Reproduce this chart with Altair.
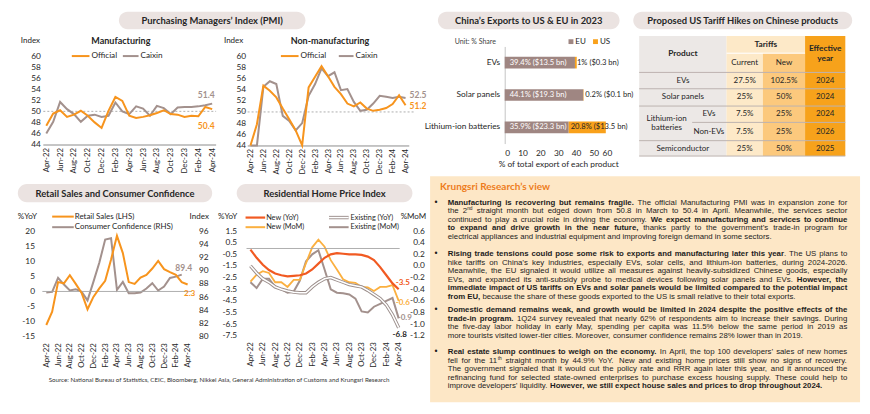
import altair as alt
import pandas as pd

W, H = 854, 398
SX, SY = W / 870, H / 414


def X(v):
    return round(v * SX, 2)


def Y(v):
    return round(v * SY, 2)


FONT = "Lato"
BODY_FONT = "Liberation Sans"
DARK = "#262626"
BODY = "#1c1c1c"
ORANGE = "#f7941d"
GRAY = "#a3918d"
PILL = "#ebe3e1"
BOX = "#fde7c6"
TITLE_ORANGE = "#ee7d1c"
EU_BROWN = "#9f8682"
US_ORANGE = "#f9a11b"
NEW_YOY_C = "#f15a22"
NEW_MOM_C = "#fbb040"
EX_YOY_C = "#9c8f8c"
EX_MOM_C = "#a3918d"
GRID = "#a6a6a6"

# ---------------- data ----------------
months = ["Apr-22", "May-22", "Jun-22", "Jul-22", "Aug-22", "Sep-22", "Oct-22", "Nov-22", "Dec-22",
          "Jan-23", "Feb-23", "Mar-23", "Apr-23", "May-23", "Jun-23", "Jul-23", "Aug-23", "Sep-23",
          "Oct-23", "Nov-23", "Dec-23", "Jan-24", "Feb-24", "Mar-24", "Apr-24"]
tick_months = months[::2]

mfg_official = [47.4, 49.6, 50.2, 49.0, 49.4, 50.1, 49.2, 48.0, 47.0, 50.1, 52.6, 51.9, 49.2, 48.8,
                49.0, 49.3, 49.7, 50.2, 49.5, 49.4, 49.0, 49.2, 49.1, 50.8, 50.4]
mfg_caixin = [46.0, 48.1, 51.7, 50.4, 49.5, 48.1, 49.2, 49.4, 49.0, 49.2, 51.6, 50.0, 49.5, 50.9,
              50.5, 49.2, 51.0, 50.6, 49.5, 50.7, 50.8, 50.8, 50.9, 51.1, 51.4]
nonmfg_official = [41.9, 47.8, 54.7, 53.8, 52.6, 50.6, 48.7, 46.7, 41.6, 54.4, 56.3, 58.2, 56.4, 54.5,
                   53.2, 51.5, 51.0, 51.7, 50.6, 50.2, 50.4, 50.7, 51.4, 53.0, 51.2]
nonmfg_caixin = [36.2, 41.4, 54.5, 55.5, 55.0, 49.3, 48.4, 46.7, 48.0, 52.9, 55.0, 57.8, 56.4, 57.1,
                 53.9, 54.1, 51.8, 50.2, 50.4, 51.5, 52.9, 52.7, 52.5, 52.7, 52.5]
retail_sales = [-11.1, -6.7, 3.1, 2.7, 5.4, 2.5, -0.5, -5.9, -1.8, 1.0, 3.5, 10.6, 18.4, 12.7, 3.1,
                2.5, 4.6, 5.5, 7.6, 10.1, 7.4, 6.4, 5.5, 3.1, 2.3]
consumer_conf = [86.7, 86.8, 88.9, 87.9, 87.0, 87.2, 86.8, 85.5, 88.3, 91.2, 94.7, 94.9, 87.1, 88.3,
                 86.6, 86.6, 86.7, 87.3, 88.1, 87.0, 87.6, 88.9, 89.1, 89.4, None]
new_yoy = [-0.1, -0.8, -1.4, -1.85, -2.15, -2.3, -2.4, -2.35, -2.3, -2.15, -1.8, -1.3, -0.8, -0.5,
           -0.4, -0.45, -0.5, -0.5, -0.55, -0.7, -1.0, -1.6, -2.3, -3.0, -3.5]
new_mom = [-0.27, -0.15, -0.09, -0.12, -0.28, -0.28, -0.36, -0.24, -0.24, 0.05, 0.32, 0.45, 0.33,
           0.10, -0.06, -0.23, -0.28, -0.29, -0.36, -0.37, -0.43, -0.36, -0.36, -0.33, -0.6]
existing_yoy = [-1.5, -2.1, -2.6, -2.9, -3.3, -3.5, -3.65, -3.75, -3.8, -3.8, -3.3, -2.9, -2.6, -2.5,
                -2.7, -2.9, -3.1, -3.2, -3.3, -3.6, -3.95, -4.3, -4.85, -5.7, -6.8]
existing_mom = [-0.28, -0.38, -0.22, -0.22, -0.36, -0.40, -0.46, -0.44, -0.25, 0.08, 0.2, 0.27, -0.06,
                -0.4, -0.46, -0.47, -0.49, -0.56, -0.78, -0.8, -0.7, -0.65, -0.6, -0.55, -0.9]

products = ["EVs", "Solar panels", "Lithium-ion batteries"]
eu_share = [39.4, 44.1, 35.9]
us_share = [1.0, 0.2, 20.8]
eu_labels = ["39.4% ($13.5 bn)", "44.1% ($19.3 bn)", "35.9% ($23.3 bn)"]
us_labels = ["1% ($0.3 bn)", "0.2% ($0.1 bn)", "20.8% ($13.5 bn)"]

table_product = ["EVs", "Solar panels", "Lithium-ion batteries", "Lithium-ion batteries", "Semiconductor"]
table_sub = ["", "", "EVs", "Non-EVs", ""]
table_current = ["27.5%", "25%", "7.5%", "7.5%", "25%"]
table_new = ["102.5%", "50%", "25%", "25%", "50%"]
table_year = ["2024", "2024", "2024", "2026", "2025"]

source_text = ("Source: National Bureau of Statistics, CEIC, Bloomberg, Nikkei Asia, "
               "General Administration of Customs and Krungsri Research")

paragraphs = [
    ["**Manufacturing is recovering but remains fragile.** The official Manufacturing PMI was in expansion zone for",
     "the 2^{nd} straight month but edged down from 50.8 in March to 50.4 in April. Meanwhile, the services sector",
     "continued to play a crucial role in driving the economy. **We expect manufacturing and services to continue**",
     "**to expand and drive growth in the near future,** thanks partly to the government’s trade-in program for",
     "electrical appliances and industrial equipment and improving foreign demand in some sectors."],
    ["**Rising trade tensions could pose some risk to exports and manufacturing later this year**. The US plans to",
     "hike tariffs on China’s key industries, especially EVs, solar cells, and lithium-ion batteries, during 2024-2026.",
     "Meanwhile, the EU signaled it would utilize all measures against heavily-subsidized Chinese goods, especially",
     "EVs, and expanded its anti-subsidy probe to medical devices following solar panels and EVs. **However, the**",
     "**immediate impact of US tariffs on EVs and solar panels would be limited compared to the potential impact**",
     "**from EU,** because the share of these goods exported to the US is small relative to their total exports."],
    ["**Domestic demand remains weak, and growth would be limited in 2024 despite the positive effects of the**",
     "**trade-in program.** 1Q24 survey revealed that nearly 62% of respondents aim to increase their savings. During",
     "the five-day labor holiday in early May, spending per capita was 11.5% below the same period in 2019 as",
     "more tourists visited lower-tier cities. Moreover, consumer confidence remains 28% lower than in 2019."],
    ["**Real estate slump continues to weigh on the economy.** In April, the top 100 developers’ sales of new homes",
     "fell for the 11^{th} straight month by 44.9% YoY. New and existing home prices still show no signs of recovery.",
     "The government signaled that it would cut the policy rate and RRR again later this year, and it announced the",
     "refinancing fund for selected state-owned enterprises to purchase excess housing supply. These could help to",
     "improve developers’ liquidity.  **However, we still expect house sales and prices to drop throughout 2024.**"],
]

# ---------------- helpers ----------------
texts, rects, rules = [], [], []


def T(x, y, s, size, color=DARK, weight="normal", align="center", font=FONT):
    texts.append(dict(x=X(x), y=Y(y), text=s, size=size, color=color, weight=weight,
                      align=align, font=font, baseline="middle"))


def R(x0, x1, y0, y1, fill, r=0):
    rects.append(dict(x=X(x0), x2=X(x1), y=Y(y0), y2=Y(y1), fill=fill, r=r))


def L(x0, x1, y0, y1, color, w=1.0):
    rules.append(dict(x=X(x0), x2=X(x1), y=Y(y0), y2=Y(y1), color=color, w=w))


INT = "replace(format(datum.value, 'd'), '\u2212', '-')"
ONE = "replace(format(datum.value, '.1f'), '\u2212', '-')"


def xenc(x0, x1, axis_y, domain_line):
    step = (x1 - x0) / (len(months) - 1)
    return alt.X("month:O", sort=months,
                 scale=alt.Scale(range=[X(x0 - step / 2), X(x1 + step / 2)], padding=0.5),
                 axis=alt.Axis(orient="bottom", offset=Y(axis_y) - H, values=tick_months,
                               labelAngle=270, title=None, grid=False, domain=domain_line,
                               domainColor="#8c8c8c", ticks=False, labelFont=FONT,
                               labelFontSize=7.8, labelColor=DARK, labelPadding=3))


def yenc(dom, y0, y1, axis_x, orient, values, expr, label_align=None):
    off = -X(axis_x) if orient == "left" else X(axis_x) - W
    kw = dict(orient=orient, offset=off, values=values, labelExpr=expr, title=None,
              grid=False, domain=False, ticks=False, labelFont=FONT,
              labelFontSize=8.3, labelColor=DARK, labelPadding=2)
    if label_align:
        kw["labelAlign"] = label_align
    return alt.Y("value:Q",
                 scale=alt.Scale(domain=dom, range=[Y(y0), Y(y1)], nice=False, zero=False, clamp=True),
                 axis=alt.Axis(**kw))


def sdf(vals):
    return pd.DataFrame({"month": months, "value": vals}).dropna()


def line(vals, xe, ye, color, width=2.0):
    return alt.Chart(sdf(vals)).mark_line(color=color, strokeWidth=width).encode(x=xe, y=ye)


def endlabel(vals, idx, xe, ye, color, dx, dy, align="center", size=8.5):
    df = pd.DataFrame({"month": [months[idx]], "value": [vals[idx]], "label": [f"{vals[idx]:.1f}"]})
    return alt.Chart(df).mark_text(color=color, dx=dx, dy=dy, align=align, fontWeight="bold",
                                   fontSize=size, font=FONT).encode(x=xe, y=ye, text="label:N")


dummy = pd.DataFrame({"d": [0]})


def hrule(value, x0, x1, dash=None, color=GRID):
    kw = dict(color=color, strokeWidth=0.9)
    if dash:
        kw["strokeDash"] = dash
    return alt.Chart(dummy).mark_rule(**kw).encode(y=alt.datum(value), x=alt.value(X(x0)),
                                                    x2=alt.value(X(x1)))


# ---------------- PMI manufacturing ----------------
xm = xenc(39, 208, 142, True)
ym = yenc([44, 60], 142, 50, 35, "left", list(range(44, 61, 2)), INT)
mfg = alt.layer(
    hrule(50, 36, 212, dash=[2, 2]),
    line(mfg_caixin, xm, ym, GRAY),
    line(mfg_official, xm, ym, ORANGE),
    endlabel(mfg_caixin, 24, xm, ym, GRAY, -6, -9),
    endlabel(mfg_official, 24, xm, ym, ORANGE, -6, 17),
)

# ---------------- PMI non-manufacturing ----------------
xn = xenc(247, 405, 143, True)
yn = yenc([44, 60], 143, 50, 244, "left", list(range(44, 61, 2)), INT)
nonmfg = alt.layer(
    hrule(50, 240, 415, dash=[2, 2]),
    line(nonmfg_caixin, xn, yn, GRAY),
    line(nonmfg_official, xn, yn, ORANGE),
    endlabel(nonmfg_caixin, 24, xn, yn, GRAY, 4, -3, align="left"),
    endlabel(nonmfg_official, 24, xn, yn, ORANGE, 4, 1, align="left"),
)

# ---------------- Retail sales / consumer confidence ----------------
xr = xenc(39, 183, 345, False)
yr_l = yenc([-15, 20], 342, 232, 29, "left", list(range(-15, 21, 5)), INT)
yr_r = yenc([80, 96], 342, 232, 192, "right", list(range(80, 97, 2)), INT)
retail = alt.layer(
    alt.layer(line(consumer_conf, xr, yr_r, GRAY),
              endlabel(consumer_conf, 23, xr, yr_r, GRAY, 2, -7)),
    alt.layer(hrule(0, 35, 187),
              line(retail_sales, xr, yr_l, ORANGE),
              endlabel(retail_sales, 24, xr, yr_l, ORANGE, 2, 9, size=8.2)),
).resolve_scale(y="independent")

# ---------------- Residential home prices ----------------
xh = xenc(247, 398, 344, False)
yh_l = yenc([-7.5, 1.5], 341, 232, 235, "left", [round(1.5 - i, 1) for i in range(10)], ONE)
yh_r = yenc([-1.2, 0.6], 341, 232, 422, "right", [round(0.6 - 0.2 * i, 1) for i in range(10)], ONE,
            label_align="right")
home = alt.layer(
    alt.layer(line(existing_mom, xh, yh_r, EX_MOM_C, 2.0),
              line(new_mom, xh, yh_r, NEW_MOM_C, 1.8),
              endlabel(new_mom, 24, xh, yh_r, NEW_MOM_C, -3, 2, align="left", size=8),
              endlabel(existing_mom, 24, xh, yh_r, GRAY, -1, 0, align="left", size=8)),
    alt.layer(hrule(0, 243, 399),
              line(existing_yoy, xh, yh_l, EX_YOY_C, 3.4),
              line(existing_yoy, xh, yh_l, "white", 1.5),
              line(new_yoy, xh, yh_l, NEW_YOY_C, 2.2),
              endlabel(new_yoy, 24, xh, yh_l, NEW_YOY_C, -3, -6, align="left", size=8),
              endlabel(existing_yoy, 24, xh, yh_l, DARK, 1, 7, size=8)),
).resolve_scale(y="independent")

# ---------------- Exports bars ----------------
exp_df = pd.DataFrame({"product": products * 2, "region": ["EU"] * 3 + ["US"] * 3,
                       "share": eu_share + us_share, "k": [0] * 3 + [1] * 3})
ye = alt.Y("product:N", sort=products,
           scale=alt.Scale(range=[Y(40), Y(141)], paddingInner=0.64, paddingOuter=0.32),
           axis=alt.Axis(orient="left", offset=-X(506), title=None, domainColor="#c4c4c4", ticks=False,
                         labelFont=FONT, labelFontSize=8.3, labelColor=DARK, labelPadding=5,
                         labelLimit=200))
x_scale = alt.Scale(domain=[0, 60], range=[X(506), X(615)], nice=False, zero=True)
x_axis = alt.Axis(orient="bottom", offset=Y(143) - H, values=list(range(0, 61, 10)),
                  title="% of total export of each product", titleFont=FONT, titleFontWeight="normal",
                  titleFontSize=8.3, titleColor=DARK, titlePadding=3, grid=False, domain=False,
                  ticks=False, labelFont=FONT, labelFontSize=8.3, labelColor=DARK, labelPadding=3)
bars = alt.Chart(exp_df).mark_bar().encode(
    x=alt.X("share:Q", stack="zero", scale=x_scale, axis=x_axis),
    y=ye,
    color=alt.Color("region:N", scale=alt.Scale(domain=["EU", "US"], range=[EU_BROWN, US_ORANGE]),
                    legend=None),
    order=alt.Order("k:Q"),
)
eu_lab = alt.Chart(pd.DataFrame({"product": products, "share": [0] * 3, "label": eu_labels})).mark_text(
    align="left", dx=5, color="white", font=FONT, fontSize=7.6).encode(
    x=alt.X("share:Q", scale=x_scale, axis=x_axis), y=ye, text="label:N")
us_lab = alt.Chart(pd.DataFrame({"product": products, "share": eu_share, "label": us_labels})).mark_text(
    align="left", dx=2, color=DARK, font=FONT, fontSize=7.6).encode(
    x=alt.X("share:Q", scale=x_scale, axis=x_axis), y=ye, text="label:N")
exports = alt.layer(bars, eu_lab, us_lab)

# ---------------- decorations ----------------
pills = [(113, 303, 4, 22, "Purchasing Managers’ Index (PMI)"),
         (438, 623, 4, 22, "China’s Exports to US & EU in 2023"),
         (637, 860, 4, 22, "Proposed US Tariff Hikes on Chinese products"),
         (10, 208, 183, 202, "Retail Sales and Consumer Confidence"),
         (233, 412, 183, 202, "Residential Home Price Index")]
for x0, x1, y0, y1, s in pills:
    R(x0, x1, y0, y1, PILL, 9)
    T((x0 + x1) / 2, (y0 + y1) / 2 + 0.5, s, 9.4, weight="bold")

R(430, 868, 175, 410, BOX)
T(440, 186, "Krungsri Research’s view", 10, color=TITLE_ORANGE, weight="bold", align="left")
T(215, 387, source_text, 6.2, color="#333333")

# chart titles and unit labels
T(115, 34, "Manufacturing", 9, weight="bold")
T(328, 34, "Non-manufacturing", 9, weight="bold")
for x, y, s in [(13, 34, "Index"), (220, 34, "Index"), (10, 217, "%YoY"), (185, 217, "Index"),
                (214, 217, "%YoY"), (400, 217, "%MoM")]:
    T(x, y, s, 8, align="left")

# legends
for x0, x1, y, c, s in [(65, 83, 50, ORANGE, "Official"), (117, 133, 50, GRAY, "Caixin"),
                        (278, 296, 50, ORANGE, "Official"), (337, 352, 50, GRAY, "Caixin")]:
    L(x0, x1, y, y, c, 2)
    T(x1 + 2, y, s, 8.2, align="left")
for y, c, s in [(217, ORANGE, "Retail Sales (LHS)"), (228, GRAY, "Consumer Confidence (RHS)")]:
    L(45, 67, y, y, c, 2)
    T(68, y, s, 7.9, align="left")
L(242, 262, 218, 218, NEW_YOY_C, 2.2)
T(263, 218, "New (YoY)", 7.3, align="left")
L(242, 262, 228, 228, NEW_MOM_C, 2)
T(263, 228, "New (MoM)", 7.3, align="left")
L(327, 347, 218, 218, EX_YOY_C, 3.4)
L(327, 347, 218, 218, "white", 1.5)
T(349, 218, "Existing (YoY)", 7.3, align="left")
L(327, 347, 228, 228, EX_MOM_C, 2)
T(349, 228, "Existing (MoM)", 7.3, align="left")

# exports legend
T(455, 35, "Unit: % Share", 7, color="#444444", align="left")
R(571, 576, 32.5, 37.5, EU_BROWN)
T(578, 35, "EU", 8, align="left")
R(596, 601, 32.5, 37.5, US_ORANGE)
T(603, 35, "US", 8, align="left")

# tariff table
R(643, 732, 29, 154, "#ece8e6")
R(732, 812, 29, 47, "#fde9c8")
R(732, 769, 47, 154, "#fde9c8")
R(769, 812, 47, 154, "#fcc97d")
R(812, 853, 29, 154, "#f7a21b")
L(732, 812, 47, 47, "white", 1)
for yy in [67, 84, 102, 138, 154]:
    L(643, 853, yy, yy, "#bdb3b0", 1)
L(697, 853, 119, 119, "#bdb3b0", 1)
T(687.5, 48, "Product", 8.3, weight="bold")
T(772, 38, "Tariffs", 8.3, weight="bold")
T(832.5, 43, "Effective", 8.3, weight="bold")
T(832.5, 53, "year", 8.3, weight="bold")
T(750.5, 57, "Current", 8)
T(790.5, 57, "New", 8)
row_y = [75.5, 93, 110.5, 128.5, 146.5]
done = set()
for i, yy in enumerate(row_y):
    if table_sub[i]:
        if table_product[i] not in done:
            words = table_product[i].split(" ")
            T(671, 115, words[0], 8)
            T(671, 124.5, " ".join(words[1:]), 8)
            done.add(table_product[i])
        T(714, yy, table_sub[i], 8)
    else:
        T(687.5, yy, table_product[i], 8)
    T(750.5, yy, table_current[i], 8)
    T(790.5, yy, table_new[i], 8)
    T(832.5, yy, table_year[i], 8)

# ---------------- body text (justified, word by word) ----------------
REG = {" ": 278, "!": 278, "%": 889, "&": 667, "'": 191, "(": 333, ")": 333, ",": 278, "-": 333,
       ".": 278, "/": 278, ":": 278, ";": 278, "?": 556, "$": 556, "’": 222,
       "A": 667, "B": 667, "C": 722, "D": 722, "E": 667, "F": 611, "G": 778, "H": 722, "I": 278,
       "J": 500, "K": 667, "L": 556, "M": 833, "N": 722, "O": 778, "P": 667, "Q": 778, "R": 722,
       "S": 667, "T": 611, "U": 722, "V": 667, "W": 944, "X": 667, "Y": 667, "Z": 611,
       "a": 556, "b": 556, "c": 500, "d": 556, "e": 556, "f": 278, "g": 556, "h": 556, "i": 222,
       "j": 222, "k": 500, "l": 222, "m": 833, "n": 556, "o": 556, "p": 556, "q": 556, "r": 333,
       "s": 500, "t": 278, "u": 556, "v": 500, "w": 722, "x": 500, "y": 500, "z": 500}
BLD = {" ": 278, "!": 333, "%": 889, "&": 722, "'": 238, "(": 333, ")": 333, ",": 278, "-": 333,
       ".": 278, "/": 278, ":": 333, ";": 333, "?": 611, "$": 556, "’": 278,
       "A": 722, "B": 722, "C": 722, "D": 722, "E": 667, "F": 611, "G": 778, "H": 722, "I": 278,
       "J": 556, "K": 722, "L": 611, "M": 833, "N": 722, "O": 778, "P": 667, "Q": 778, "R": 722,
       "S": 667, "T": 611, "U": 722, "V": 667, "W": 944, "X": 667, "Y": 667, "Z": 611,
       "a": 556, "b": 611, "c": 556, "d": 611, "e": 556, "f": 333, "g": 611, "h": 611, "i": 278,
       "j": 278, "k": 556, "l": 278, "m": 889, "n": 611, "o": 611, "p": 611, "q": 611, "r": 389,
       "s": 556, "t": 333, "u": 611, "v": 556, "w": 778, "x": 556, "y": 556, "z": 500}
SUP = 0.62


def parse_runs(s):
    runs, buf, bold, i = [], "", False, 0
    while i < len(s):
        if s.startswith("**", i):
            if buf:
                runs.append((buf, "b" if bold else "n"))
                buf = ""
            bold = not bold
            i += 2
            continue
        if s.startswith("^{", i):
            if buf:
                runs.append((buf, "b" if bold else "n"))
                buf = ""
            j = s.index("}", i)
            runs.append((s[i + 2:j], "s"))
            i = j + 1
            continue
        buf += s[i]
        i += 1
    if buf:
        runs.append((buf, "b" if bold else "n"))
    return runs


def split_words(s):
    words = [[]]
    for txt, st in parse_runs(s):
        parts = txt.split(" ")
        for k, p in enumerate(parts):
            if k > 0:
                words.append([])
            if p:
                words[-1].append((p, st))
    return [w for w in words if w]


def piece_w(p, st, size):
    if st == "s":
        return sum(REG.get(c, 556) for c in p) * size * SUP / 1000
    tbl = BLD if st == "b" else REG
    return sum(tbl.get(c, 556) for c in p) * size / 1000


def word_w(w, size):
    return sum(piece_w(p, st, size) for p, st in w)


L0, L1 = X(448), X(855)
target = L1 - L0
all_lines = [ln for para in paragraphs for ln in para]
nat1 = max(sum(word_w(w, 1) for w in split_words(ln)) + 0.278 * (len(split_words(ln)) - 1)
           for ln in all_lines)
body_size = round(min(7.8, 0.995 * target / nat1), 3)
para_y = [201.5, 255, 313.5, 357]
LINE = 8.95
for para, y0 in zip(paragraphs, para_y):
    texts.append(dict(x=X(436), y=Y(y0), text="•", size=8.5, color=BODY, weight="normal",
                      align="center", font=BODY_FONT, baseline="middle"))
    for li, ln in enumerate(para):
        yb = Y(y0 + li * LINE) + body_size * 0.36
        words = split_words(ln)
        wsum = sum(word_w(w, body_size) for w in words)
        last = li == len(para) - 1
        space = 0.278 * body_size
        gap = space if (last or len(words) < 2) else (target - wsum) / (len(words) - 1)
        x = L0
        for w in words:
            for p, st in w:
                if st == "s":
                    texts.append(dict(x=round(x, 2), y=round(yb - body_size * 0.38, 2), text=p,
                                      size=round(body_size * SUP, 2), color=BODY, weight="normal",
                                      align="left", font=BODY_FONT, baseline="alphabetic"))
                else:
                    texts.append(dict(x=round(x, 2), y=round(yb, 2), text=p, size=body_size, color=BODY,
                                      weight="bold" if st == "b" else "normal", align="left",
                                      font=BODY_FONT, baseline="alphabetic"))
                x += piece_w(p, st, body_size)
            x += gap

# ---------------- assemble layers ----------------
def rect_layers(rows):
    df = pd.DataFrame(rows)
    out = []
    for r, g in df.groupby("r", sort=False):
        out.append(alt.Chart(g[["x", "x2", "y", "y2", "fill"]].reset_index(drop=True))
                   .mark_rect(cornerRadius=float(r))
                   .encode(x=alt.X("x:Q", scale=None, axis=None), x2="x2:Q",
                           y=alt.Y("y:Q", scale=None, axis=None), y2="y2:Q",
                           color=alt.Color("fill:N", scale=None, legend=None)))
    return out


def rule_layer(rows):
    df = pd.DataFrame(rows)
    return (alt.Chart(df).mark_rule()
            .encode(x=alt.X("x:Q", scale=None, axis=None), x2="x2:Q",
                    y=alt.Y("y:Q", scale=None, axis=None), y2="y2:Q",
                    color=alt.Color("color:N", scale=None, legend=None),
                    strokeWidth=alt.StrokeWidth("w:Q", scale=None, legend=None)))


def text_layers(rows):
    df = pd.DataFrame(rows)
    out = []
    for (weight, align, font, baseline), g in df.groupby(["weight", "align", "font", "baseline"], sort=False):
        out.append(alt.Chart(g[["x", "y", "text", "size", "color"]].reset_index(drop=True))
                   .mark_text(fontWeight=weight, align=align, font=font, baseline=baseline)
                   .encode(x=alt.X("x:Q", scale=None, axis=None),
                           y=alt.Y("y:Q", scale=None, axis=None),
                           text=alt.Text("text:N"),
                           size=alt.Size("size:Q", scale=None, legend=None),
                           color=alt.Color("color:N", scale=None, legend=None)))
    return out


layers = rect_layers(rects) + [rule_layer(rules), mfg, nonmfg, exports, retail, home] + text_layers(texts)

chart = (alt.layer(*layers)
         .resolve_scale(x="independent", y="independent", color="independent",
                        size="independent", strokeWidth="independent")
         .properties(width=W, height=H, padding=0, background="white",
                     autosize=alt.AutoSizeParams(type="none"))
         .configure_view(stroke=None))

chart.save("out.html", embed_options={"renderer": "svg", "actions": False})
